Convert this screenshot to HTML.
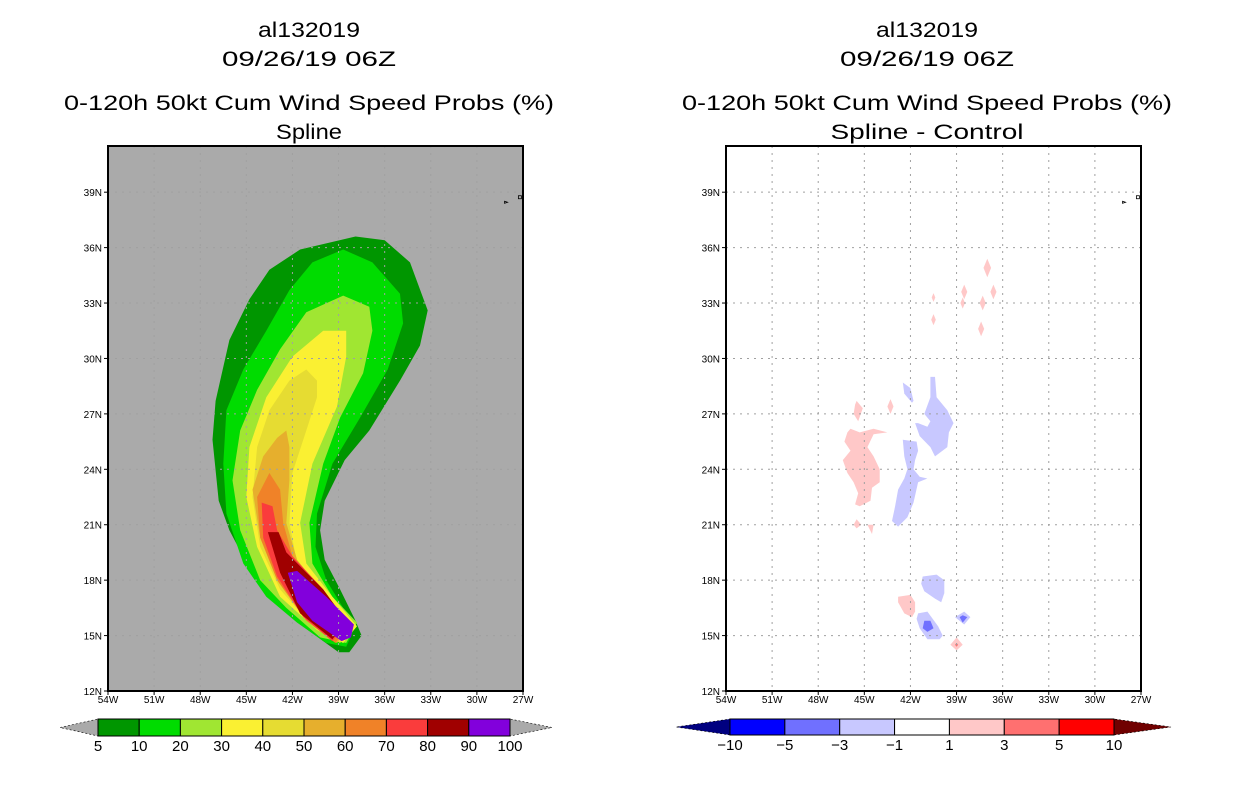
<!DOCTYPE html>
<html><head><meta charset="utf-8">
<style>
html,body{margin:0;padding:0;background:#fff;}
svg{display:block;font-family:"Liberation Sans",sans-serif;}
.t{font-size:21px;}
.tk{font-size:10px;}
.cb{font-size:15px;}
</style></head>
<body>
<svg id="s" width="1236" height="800" viewBox="0 0 1236 800">
<g>
<text class="t" x="309" y="37" text-anchor="middle" textLength="102" lengthAdjust="spacingAndGlyphs">al132019</text>
<text class="t" x="309" y="66" text-anchor="middle" textLength="174" lengthAdjust="spacingAndGlyphs">09/26/19 06Z</text>
<text class="t" x="309" y="110" text-anchor="middle" textLength="490" lengthAdjust="spacingAndGlyphs">0-120h 50kt Cum Wind Speed Probs (%)</text>
<text class="t" x="309" y="139" text-anchor="middle" textLength="66" lengthAdjust="spacingAndGlyphs">Spline</text>
</g>
<g>
<text class="t" x="927" y="37" text-anchor="middle" textLength="102" lengthAdjust="spacingAndGlyphs">al132019</text>
<text class="t" x="927" y="66" text-anchor="middle" textLength="174" lengthAdjust="spacingAndGlyphs">09/26/19 06Z</text>
<text class="t" x="927" y="110" text-anchor="middle" textLength="490" lengthAdjust="spacingAndGlyphs">0-120h 50kt Cum Wind Speed Probs (%)</text>
<text class="t" x="927" y="139" text-anchor="middle" textLength="193" lengthAdjust="spacingAndGlyphs">Spline - Control</text>
</g>
<g id="L"></g>
<g id="R"></g>
<g id="CB"></g>
</svg>
<script>
const NS="http://www.w3.org/2000/svg";
const lonTicks=[-54,-51,-48,-45,-42,-39,-36,-33,-30,-27];
const lonLabels=["54W","51W","48W","45W","42W","39W","36W","33W","30W","27W"];
const latTicks=[12,15,18,21,24,27,30,33,36,39];
const latLabels=["12N","15N","18N","21N","24N","27N","30N","33N","36N","39N"];
const probLevels=[5,10,20,30,40,50,60,70,80,90,100];
const probColors=["#009600","#00dc00","#a0e632","#faf032","#e6dc32","#e6af2d","#f08228","#fa3c3c","#a00000","#8200dc"];
const diffLevels=[-10,-5,-3,-1,1,3,5,10];
const diffColors=["#0000ff","#7070ff","#c8c8ff","#ffffff","#ffc8c8","#ff7070","#ff0000"];
// probability contours [lon,lat]
const p5=[[-37.9,36.6],[-36.0,36.4],[-34.35,35.2],[-33.2,32.6],[-33.7,30.7],[-35.0,28.8],[-37.0,26.1],[-38.6,24.5],[-39.9,22.3],[-40.2,20.7],[-39.9,19.1],[-38.9,17.5],[-37.9,15.8],[-37.5,15.0],[-38.3,14.1],[-39.0,14.1],[-41.5,15.6],[-43.5,17.5],[-45.1,19.1],[-46.1,20.7],[-46.8,22.3],[-47.2,25.6],[-47.0,27.7],[-46.1,31.0],[-44.8,33.2],[-43.5,34.8],[-41.5,35.9]];
const p10=[[-38.7,35.9],[-36.8,35.2],[-35.0,33.5],[-34.8,31.9],[-35.8,29.4],[-37.6,26.8],[-39.4,24.3],[-40.4,21.6],[-40.5,19.8],[-39.8,18.0],[-38.7,16.5],[-37.8,15.7],[-38.5,14.4],[-39.8,14.6],[-41.7,15.7],[-43.7,17.1],[-45.2,18.9],[-46.3,21.6],[-46.5,24.3],[-46.3,27.2],[-45.2,29.4],[-43.7,31.5],[-42.2,33.7],[-40.7,35.2]];
const p20=[[-38.7,33.4],[-37.0,32.8],[-36.8,31.5],[-37.4,29.2],[-38.9,26.8],[-40.0,24.3],[-40.9,21.1],[-40.7,18.9],[-39.4,17.1],[-37.8,15.7],[-38.5,14.6],[-40.2,14.9],[-42.4,16.5],[-44.1,18.0],[-45.4,20.7],[-45.9,23.4],[-45.4,26.1],[-44.3,28.3],[-42.8,30.5],[-41.1,32.5]];
const p30=[[-40.0,31.5],[-38.5,31.5],[-38.5,30.1],[-39.1,27.4],[-40.7,24.3],[-41.5,21.1],[-41.1,18.9],[-39.4,17.1],[-37.8,15.5],[-38.7,14.6],[-40.4,15.3],[-42.8,17.1],[-44.3,19.8],[-45.0,22.5],[-44.8,25.2],[-43.7,27.9],[-42.0,30.1]];
const p40=[[-41.1,29.4],[-40.4,28.8],[-40.4,27.9],[-41.1,26.1],[-42.0,23.8],[-42.2,21.1],[-41.7,18.9],[-39.8,17.1],[-38.1,15.5],[-38.9,14.6],[-40.7,15.5],[-42.8,17.5],[-44.1,19.8],[-44.6,22.5],[-44.3,25.2],[-43.5,27.2],[-42.2,28.8]];
const p50=[[-42.4,26.1],[-42.2,25.2],[-42.2,23.4],[-42.4,21.1],[-41.7,19.1],[-39.8,17.1],[-38.3,15.5],[-39.1,14.6],[-40.9,15.7],[-42.8,17.8],[-44.1,20.3],[-44.6,22.9],[-43.9,24.7],[-43.0,25.7]];
const p60=[[-43.5,23.8],[-42.8,22.9],[-42.6,21.1],[-42.0,19.3],[-40.0,17.3],[-38.4,15.6],[-39.2,14.6],[-41.1,15.8],[-43.0,18.0],[-44.1,20.3],[-44.3,22.5]];
const p70=[[-44.0,22.2],[-43.3,22.0],[-43.0,20.7],[-42.0,19.3],[-40.0,17.5],[-38.5,15.7],[-39.4,14.7],[-41.3,16.0],[-43.0,18.2],[-43.9,20.3]];
const p80=[[-43.6,20.6],[-42.9,20.6],[-42.4,19.5],[-40.0,17.5],[-38.5,15.8],[-39.4,14.8],[-41.5,16.2],[-42.8,18.4]];
const p90=[[-42.3,18.4],[-41.7,18.5],[-39.8,17.1],[-38.0,15.6],[-38.2,14.9],[-38.8,14.7],[-40.7,15.8],[-41.7,16.8]];
const probContours=[p5,p10,p20,p30,p40,p50,p60,p70,p80,p90];
// difference patches: [class index into diffColors, polygon]
const dPinkBig=[[-45.9,26.2],[-45.3,26.0],[-44.4,26.2],[-43.5,26.0],[-44.4,25.9],[-44.8,25.2],[-44.4,24.7],[-44.0,24.0],[-44.0,23.3],[-44.5,23.0],[-44.6,22.3],[-45.3,22.0],[-45.6,22.1],[-45.4,22.7],[-45.7,23.3],[-46.1,23.8],[-46.4,24.5],[-45.9,25.0],[-46.3,25.5],[-46.1,26.0]];
const dPinkTop=[[-45.5,27.7],[-45.1,27.3],[-45.4,26.6],[-45.7,27.0],[-45.6,27.5]];
const dPinkS1=[[-45.5,21.3],[-45.2,21.0],[-45.5,20.8],[-45.7,21.0]];
const dPinkS2=[[-44.8,21.0],[-44.4,21.0],[-44.5,20.5]];
const dBlueR=[[-40.7,29.0],[-40.4,29.0],[-40.3,27.9],[-39.6,27.2],[-39.2,26.5],[-39.5,26.0],[-39.6,25.2],[-40.4,24.7],[-40.7,25.2],[-41.4,25.8],[-41.7,26.5],[-41.5,26.5],[-40.9,26.3],[-40.7,26.6],[-41.1,27.0],[-40.7,27.9]];
const dBlueM=[[-42.5,25.6],[-41.6,25.5],[-41.5,25.0],[-41.7,24.5],[-41.8,24.0],[-41.4,23.6],[-40.9,23.5],[-41.5,23.3],[-41.8,22.2],[-42.2,21.4],[-42.8,20.9],[-43.2,21.2],[-43.0,22.0],[-42.8,22.9],[-42.4,23.5],[-42.2,24.0],[-42.4,24.7]];
const dBlueT=[[-42.5,28.7],[-42.0,28.4],[-41.8,27.7],[-41.9,27.6],[-42.4,28.1]];
const dBlueB1=[[-41.2,18.2],[-40.3,18.3],[-39.8,18.0],[-39.8,17.3],[-40.0,16.8],[-40.4,17.0],[-41.1,17.4],[-41.3,17.8]];
const dPinkB=[[-42.8,17.1],[-42.0,17.2],[-41.7,16.8],[-41.7,16.3],[-41.9,16.0],[-42.4,16.2],[-42.8,16.8]];
const dBlueB2=[[-41.5,16.2],[-40.9,16.3],[-40.2,15.5],[-39.9,15.0],[-40.1,14.8],[-40.9,14.8],[-41.4,15.4],[-41.6,15.9]];
const dBlueB2in=[[-41.1,15.8],[-40.7,15.8],[-40.5,15.4],[-40.9,15.2],[-41.2,15.4]];
const dBlueB3=[[-39.1,16.0],[-38.5,16.3],[-38.1,16.0],[-38.5,15.6]];
const dBlueB3in=[[-38.6,16.1],[-38.3,16.0],[-38.6,15.7],[-38.8,16.0]];
const dPinkB2=[[-39.0,14.9],[-38.6,14.5],[-39.0,14.2],[-39.4,14.5]];
const dRedB2=[[-39.0,14.6],[-38.9,14.5],[-39.0,14.4],[-39.1,14.5]];
const diffPatches=[[4,dPinkBig],[4,dPinkTop],[4,dPinkS1],[4,dPinkS2],[2,dBlueR],[2,dBlueM],[2,dBlueT],[2,dBlueB1],[4,dPinkB],[2,dBlueB2],[1,dBlueB2in],[2,dBlueB3],[1,dBlueB3in],[4,dPinkB2],[5,dRedB2]];
// small pink specks: lon, lat, half-size in degrees
const diffSpecks=[[-37.0,34.9,0.25],[-38.5,33.6,0.2],[-38.6,33.0,0.15],[-37.3,33.0,0.2],[-40.5,33.3,0.12],[-40.5,32.1,0.15],[-37.4,31.6,0.2],[-36.6,33.6,0.2],[-43.3,27.4,0.2]];

const Y0=146,Y1=691,LAT0=12,LAT1=41.5,LON0=-54,LON1=-27,W=415;
function mk(p,tag,a){const e=document.createElementNS(NS,tag);for(const k in a)e.setAttribute(k,a[k]);p.appendChild(e);return e;}
function xs(x0,lon){return x0+(lon-LON0)/(LON1-LON0)*W;}
function ys(lat){return Y1-(lat-LAT0)/(LAT1-LAT0)*(Y1-Y0);}
function pts(x0,poly){return poly.map(p=>xs(x0,p[0]).toFixed(1)+","+ys(p[1]).toFixed(1)).join(" ");}
function frame(g,x0,bg){
  const r=mk(g,"rect",{x:x0,y:Y0,width:W,height:Y1-Y0,fill:bg});
  
  
}
function grid(g,x0){
  lonTicks.slice(1,-1).forEach(l=>{const e=mk(g,"line",{x1:xs(x0,l),x2:xs(x0,l),y1:Y0,y2:Y1,stroke:"#a0a0a0","stroke-dasharray":"2,5","stroke-width":1});
    });
  latTicks.slice(1).forEach(l=>{const e=mk(g,"line",{x1:x0,x2:x0+W,y1:ys(l),y2:ys(l),stroke:"#a0a0a0","stroke-dasharray":"2,5","stroke-width":1});
    });
}
function axes(g,x0){
  const b=mk(g,"rect",{x:x0,y:Y0,width:W,height:Y1-Y0,fill:"none",stroke:"#000","stroke-width":2});
  
  lonTicks.forEach((l,i)=>{const x=xs(x0,l);mk(g,"line",{x1:x,x2:x,y1:Y1,y2:Y1+4,stroke:"#000"});
    const t=mk(g,"text",{x:x,y:Y1+12,"text-anchor":"middle",class:"tk"});t.textContent=lonLabels[i];
    });
  latTicks.forEach((l,i)=>{const y=ys(l);mk(g,"line",{x1:x0-4,x2:x0,y1:y,y2:y,stroke:"#000"});
    const t=mk(g,"text",{x:x0-6,y:y+4,"text-anchor":"end",class:"tk"});t.textContent=latLabels[i];
    });
  const m=mk(g,"rect",{x:xs(x0,-27.3),y:ys(38.7)-2,width:3,height:3,fill:"none",stroke:"#000","stroke-width":0.8});
  
  const m2=mk(g,"path",{d:`M${xs(x0,-28.2)} ${ys(38.4)-2}l3 1l-3 1z`,fill:"none",stroke:"#000","stroke-width":0.8});
  
}
const L=document.getElementById("L"),R=document.getElementById("R"),CB=document.getElementById("CB");
const XL=108,XR=726;
frame(L,XL,"#aaaaaa");
probContours.forEach((poly,i)=>{const e=mk(L,"polygon",{points:pts(XL,poly),fill:probColors[i]});
  });
grid(L,XL);axes(L,XL);
frame(R,XR,"#ffffff");
diffPatches.forEach(d=>{const e=mk(R,"polygon",{points:pts(XR,d[1]),fill:diffColors[d[0]]});
  });
diffSpecks.forEach(s=>{const poly=[[s[0],s[1]+s[2]*2],[s[0]+s[2],s[1]],[s[0],s[1]-s[2]*2],[s[0]-s[2],s[1]]];
  const e=mk(R,"polygon",{points:pts(XR,poly),fill:diffColors[4]});
  });
grid(R,XR);axes(R,XR);
function bar(x0,x1,y0,y1,colors,labels,lt,rt,lc,rc,name){
  const g=mk(CB,"g",{});
  const n=colors.length,w=(x1-x0)/n,ym=(y0+y1)/2;
  const a=mk(g,"polygon",{points:`${x0},${y0} ${x0},${y1} ${lt},${ym}`,fill:lc,stroke:"#000","stroke-dasharray":"2,2","stroke-width":0.6});
  
  const b=mk(g,"polygon",{points:`${x1},${y0} ${x1},${y1} ${rt},${ym}`,fill:rc,stroke:"#000","stroke-dasharray":"2,2","stroke-width":0.6});
  
  colors.forEach((c,i)=>{const r=mk(g,"rect",{x:x0+i*w,y:y0,width:w,height:y1-y0,fill:c,stroke:"#000","stroke-width":1});
    });
  labels.forEach((l,i)=>{const t=mk(g,"text",{x:x0+i*w,y:y1+15,"text-anchor":"middle",class:"cb"});t.textContent=String(l).replace("-","\u2212");
    });
}
bar(98,510,719,736,probColors,probLevels,60,552,"#aaaaaa","#aaaaaa","left-colorbar");
bar(730,1114,719,735,diffColors,diffLevels,676,1171,"#000080","#700000","right-colorbar");
</script>
</body></html>
